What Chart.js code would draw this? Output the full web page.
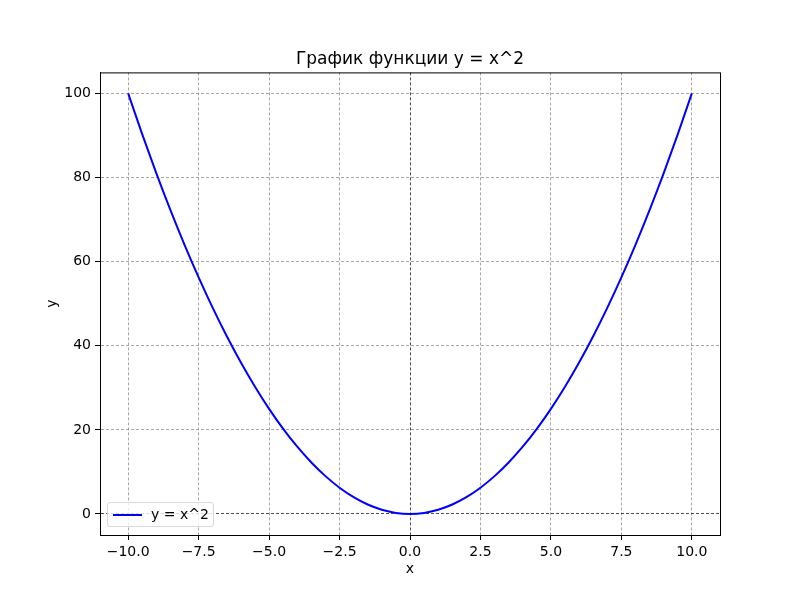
<!DOCTYPE html>
<html>
<head>
<meta charset="utf-8">
<script src="https://cdn.jsdelivr.net/npm/chart.js@4/dist/chart.umd.min.js"></script>
<style>
    body { margin: 0; background: #fff; }
    #wrap { position: relative; width: 800px; height: 600px; }
    #legend {
        position: absolute; left: 107px; top: 502px; width: 105px; height: 23px;
        border: 1px solid #d9d9d9; border-radius: 3px; background: rgba(255,255,255,0.8);
        font-family: "DejaVu Sans", sans-serif; font-size: 14px; color: #000;
    }
    #legend .swatch { position: absolute; left: 5px; top: 11px; width: 29px; height: 2px; }
    #legend .label { position: absolute; left: 43px; top: 2px; line-height: 18px; }
</style>
</head>
<body>
<div id="wrap">
    <canvas id="chart" width="800" height="600"></canvas>
    <div id="legend"><div class="swatch"></div><div class="label"></div></div>
</div>
<script>
// values
const xValues = [-10, -9.5, -9, -8.5, -8, -7.5, -7, -6.5, -6, -5.5, -5, -4.5, -4, -3.5, -3, -2.5, -2, -1.5, -1, -0.5,
    0, 0.5, 1, 1.5, 2, 2.5, 3, 3.5, 4, 4.5, 5, 5.5, 6, 6.5, 7, 7.5, 8, 8.5, 9, 9.5, 10];
const yValues = [100, 90.25, 81, 72.25, 64, 56.25, 49, 42.25, 36, 30.25, 25, 20.25, 16, 12.25, 9, 6.25, 4, 2.25, 1, 0.25,
    0, 0.25, 1, 2.25, 4, 6.25, 9, 12.25, 16, 20.25, 25, 30.25, 36, 42.25, 49, 56.25, 64, 72.25, 81, 90.25, 100];
const xTicks = [-10, -7.5, -5, -2.5, 0, 2.5, 5, 7.5, 10];
const yTicks = [0, 20, 40, 60, 80, 100];

const seriesLabel = 'y = x^2';
const lineColor = '#0000ff';
const font = "'DejaVu Sans', sans-serif";

const points = xValues.map((x, i) => ({ x: x, y: yValues[i] }));

// matplotlib-like closed frame
const frame = {
    id: 'frame',
    afterDraw(chart) {
        const a = chart.chartArea;
        const ctx = chart.ctx;
        ctx.save();
        ctx.strokeStyle = '#000';
        ctx.lineWidth = 1;
        ctx.strokeRect(a.left + 0.5, a.top + 0.5, a.right - a.left, a.bottom - a.top);
        ctx.restore();
    }
};

function gridColor(ctx) {
    return ctx.tick && ctx.tick.value === 0 ? '#000' : '#808080';
}

function minus(v) {
    return String(v).replace('-', '\u2212');
}

const chart = new Chart(document.getElementById('chart'), {
    type: 'line',
    data: {
        datasets: [{
            label: seriesLabel,
            data: points,
            borderColor: lineColor,
            borderWidth: 2,
            pointRadius: 0,
            fill: false,
            cubicInterpolationMode: 'monotone'
        }]
    },
    options: {
        responsive: false,
        animation: false,
        layout: { padding: { left: 0, right: 80, top: 0, bottom: 0 } },
        plugins: {
            legend: { display: false },
            tooltip: { enabled: false },
            title: {
                display: true,
                fullSize: false,
                text: 'График функции y = x^2',
                color: '#000',
                font: { family: font, size: 17, weight: 'normal', lineHeight: 1.2 },
                padding: { top: 49, bottom: 3 }
            }
        },
        scales: {
            x: {
                type: 'linear',
                min: -11,
                max: 11,
                afterBuildTicks: s => { s.ticks = xTicks.map(v => ({ value: v })); },
                afterFit: s => { s.height = 65; },
                ticks: {
                    color: '#000',
                    padding: 4,
                    maxRotation: 0,
                    font: { family: font, size: 14 },
                    callback: v => minus(Number(v).toFixed(1))
                },
                grid: {
                    color: gridColor,
                    lineWidth: 0.7,
                    tickColor: '#000',
                    tickLength: 5,
                    tickWidth: 1,
                    tickBorderDash: []
                },
                border: { display: true, color: '#000', width: 1, dash: [3, 2] },
                title: {
                    display: true,
                    text: 'x',
                    color: '#000',
                    font: { family: font, size: 14, lineHeight: 1.2 },
                    padding: { top: 0, bottom: 22 }
                }
            },
            y: {
                type: 'linear',
                min: -5,
                max: 105,
                afterBuildTicks: s => { s.ticks = yTicks.map(v => ({ value: v })); },
                afterFit: s => { s.width = 100; },
                ticks: {
                    color: '#000',
                    padding: 4,
                    font: { family: font, size: 14 },
                    callback: v => minus(v)
                },
                grid: {
                    color: gridColor,
                    lineWidth: 0.7,
                    tickColor: '#000',
                    tickLength: 5,
                    tickWidth: 1,
                    tickBorderDash: []
                },
                border: { display: true, color: '#000', width: 1, dash: [3, 2] },
                title: {
                    display: true,
                    text: 'y',
                    color: '#000',
                    font: { family: font, size: 14, lineHeight: 1.2 },
                    padding: { top: 44, bottom: 0 }
                }
            }
        }
    },
    plugins: [frame]
});

const ds = chart.data.datasets[0];
document.querySelector('#legend .swatch').style.background = ds.borderColor;
document.querySelector('#legend .label').textContent = ds.label;
</script>
</body>
</html>
